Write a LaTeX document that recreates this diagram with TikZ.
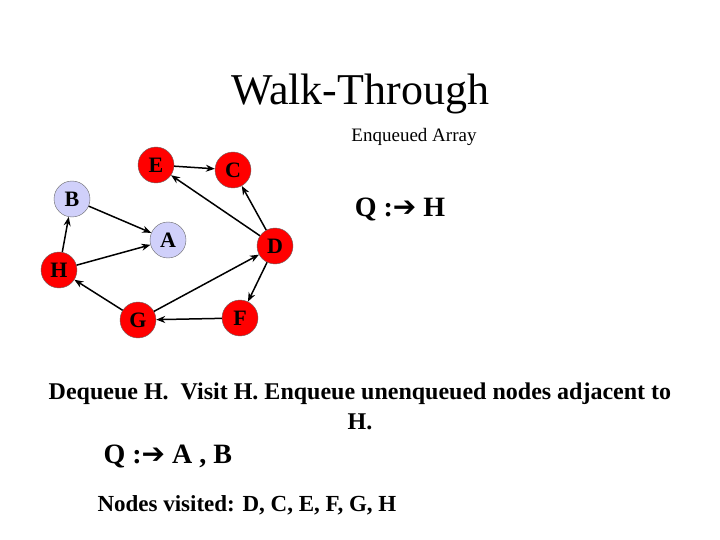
\documentclass[tikz,border=0pt]{standalone}
\usepackage{fontspec}
\setmainfont{Liberation Serif}
\newfontfamily\sym{DejaVu Sans}
\usetikzlibrary{arrows.meta}
\definecolor{nred}{RGB}{255,0,0}
\definecolor{nlav}{RGB}{208,208,250}
\begin{document}
\begin{tikzpicture}[x=1pt,y=-1pt,
 v/.style={circle,draw=black!60,fill=nred,minimum size=36pt,inner sep=0pt,font=\fontsize{22}{22}\selectfont\bfseries},
 w/.style={v,fill=nlav},
 e/.style={-{Stealth[length=9pt,width=7pt]},line width=1.5pt}]
\useasboundingbox (0,0) rectangle (720,540);
\node at (360,94) {\fontsize{44}{44}\selectfont Walk-Through};
\node at (414,137) {\fontsize{19}{19}\selectfont Enqueued Array};
\node at (400,209) {\fontsize{28}{28}\selectfont\bfseries Q :{\sym\bfseries\char"2794} H};
\node[v] (E) at (156,165) {E};
\node[v] (C) at (233,170) {C};
\node[w] (B) at (72,199) {B};
\node[w] (A) at (168,240) {A};
\node[v] (D) at (275,246) {D};
\node[v] (H) at (59,270) {H};
\node[v] (G) at (138,320) {G};
\node[v] (F) at (240,318) {F};
\draw[e] (E)--(C);
\draw[e] (D)--(E);
\draw[e] (D)--(C);
\draw[e] (B)--(A);
\draw[e] (H)--(B);
\draw[e] (H)--(A);
\draw[e] (G)--(H);
\draw[e] (G)--(D);
\draw[e] (D)--(F);
\draw[e] (F)--(G);
\node[align=center,font=\fontsize{24}{30}\selectfont\bfseries] at (360,406) {Dequeue H.\ \ Visit H. Enqueue unenqueued nodes adjacent to\\H.};
\node[anchor=west,font=\fontsize{28}{28}\selectfont\bfseries] at (100,456) {Q :{\sym\bfseries\char"2794} A , B};
\node[anchor=west,font=\fontsize{23}{23}\selectfont\bfseries] at (94,505) {Nodes visited: D, C, E, F, G, H};
\end{tikzpicture}
\end{document}
